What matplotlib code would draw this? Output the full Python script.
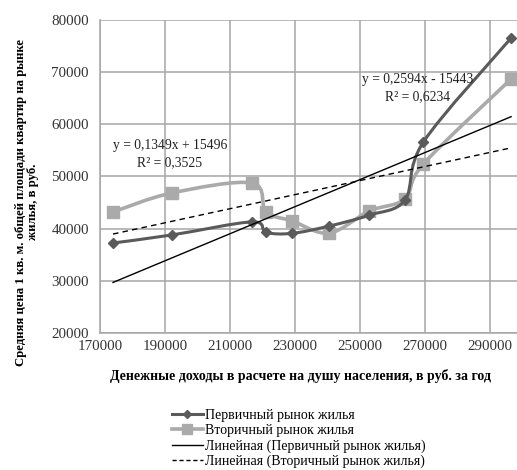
import numpy as np
import matplotlib
matplotlib.use("Agg")
import matplotlib.pyplot as plt
from matplotlib.path import Path
from matplotlib.patches import PathPatch
from matplotlib.lines import Line2D

plt.rcParams['font.family'] = ['Liberation Serif', 'DejaVu Serif']

# Data
income = [174000, 192150, 216800, 221100, 229100, 240500, 252900, 263850, 269500, 296500]
primary = [37250, 38800, 41300, 39300, 39100, 40500, 42600, 45500, 56600, 76550]
secondary = [43200, 46850, 48750, 43200, 41500, 39150, 43400, 45700, 52400, 68700]
trend_primary = (0.2594, -15443)
trend_secondary = (0.1349, 15496)
x_ticks = [170000, 190000, 210000, 230000, 250000, 270000, 290000]
y_ticks = [20000, 30000, 40000, 50000, 60000, 70000, 80000]
labels = ['Первичный рынок жилья', 'Вторичный рынок жилья',
          'Линейная (Первичный рынок жилья)', 'Линейная (Вторичный рынок жилья)']

W, H = 517, 470
fig = plt.figure(figsize=(W / 100, H / 100), dpi=100)
ax_left, ax_right, ax_top, ax_bot = 100, 555, 20, 333
ax = fig.add_axes([ax_left / W, 1 - ax_bot / H, (ax_right - ax_left) / W, (ax_bot - ax_top) / H])
ax.set_xlim(170000, 310000)
ax.set_ylim(20000, 80000)
ax.set_xticks(x_ticks)
ax.set_yticks(y_ticks)
ax.grid(True, color='#a6a6a6', lw=1.1)
ax.set_axisbelow(True)
for s in ['top', 'right']:
    ax.spines[s].set_visible(False)
for s in ['left', 'bottom']:
    ax.spines[s].set_color('#a6a6a6')
    ax.spines[s].set_linewidth(1.1)
ax.tick_params(length=0, labelsize=10.8, colors='#333333')
ax.tick_params(axis='y', pad=8)
ax.tick_params(axis='x', pad=5)


def smooth_path(xs, ys):
    pts = np.column_stack([xs, ys]).astype(float)
    n = len(pts)
    verts = [pts[0]]
    codes = [Path.MOVETO]
    for i in range(n - 1):
        p0 = pts[i - 1] if i > 0 else pts[i]
        p1 = pts[i]
        p2 = pts[i + 1]
        p3 = pts[i + 2] if i + 2 < n else pts[i + 1]
        c1 = p1 + (p2 - p0) / 6
        c2 = p2 - (p3 - p1) / 6
        verts += [c1, c2, p2]
        codes += [Path.CURVE4] * 3
    return Path(verts, codes)


c_prim = '#5a5a5a'
c_sec = '#aaaaaa'
ax.add_patch(PathPatch(smooth_path(income, primary), fill=False, edgecolor=c_prim, lw=2.2, zorder=3))
ax.plot(income, primary, ls='none', marker='D', ms=5, color=c_prim, zorder=3)
ax.add_patch(PathPatch(smooth_path(income, secondary), fill=False, edgecolor=c_sec, lw=2.6, zorder=2))
ax.plot(income, secondary, ls='none', marker='s', ms=8, color=c_sec, zorder=2)

xr = np.array([min(income), max(income)])
ax.plot(xr, trend_primary[0] * xr + trend_primary[1], color='black', lw=1.0, zorder=4)
ax.plot(xr, trend_secondary[0] * xr + trend_secondary[1], color='black', lw=1.0, ls=(0, (4, 3)), zorder=4)

ann_fs = 9.8
ax.text(x=418 / W, y=1 - 80 / H, s='y = 0,2594x - 15443', transform=fig.transFigure,
        ha='center', va='center', fontsize=ann_fs, color='#222222', zorder=5)
ax.text(x=418 / W, y=1 - 97 / H, s='R² = 0,6234', transform=fig.transFigure,
        ha='center', va='center', fontsize=ann_fs, color='#222222', zorder=5)
ax.text(x=170 / W, y=1 - 146 / H, s='y = 0,1349x + 15496', transform=fig.transFigure,
        ha='center', va='center', fontsize=ann_fs, color='#222222', zorder=5)
ax.text(x=170 / W, y=1 - 163 / H, s='R² = 0,3525', transform=fig.transFigure,
        ha='center', va='center', fontsize=ann_fs, color='#222222', zorder=5)

fig.text(300 / W, 1 - 376 / H, 'Денежные доходы в расчете на душу населения, в руб. за год',
         ha='center', va='center', fontsize=10, fontweight='bold')
fig.text(27 / W, 1 - 202 / H,
         'Средняя цена 1 кв. м. общей площади квартир на рынке\nжилья, в руб.',
         ha='center', va='center', rotation=90, fontsize=9.2, fontweight='bold',
         multialignment='center', linespacing=1.05)

handles = [
    Line2D([], [], color=c_prim, lw=2.2, marker='D', ms=4),
    Line2D([], [], color=c_sec, lw=2.6, marker='s', ms=7),
    Line2D([], [], color='black', lw=1.0),
    Line2D([], [], color='black', lw=1.0, ls=(0, (3, 2))),
]
fig.legend(handles, labels, loc='upper left', bbox_to_anchor=(172 / W, 1 - 409 / H),
           frameon=False, fontsize=10, handlelength=2.2, handletextpad=0.2,
           labelspacing=0.15, borderpad=0, borderaxespad=0)

fig.savefig('out.png', dpi=100)
